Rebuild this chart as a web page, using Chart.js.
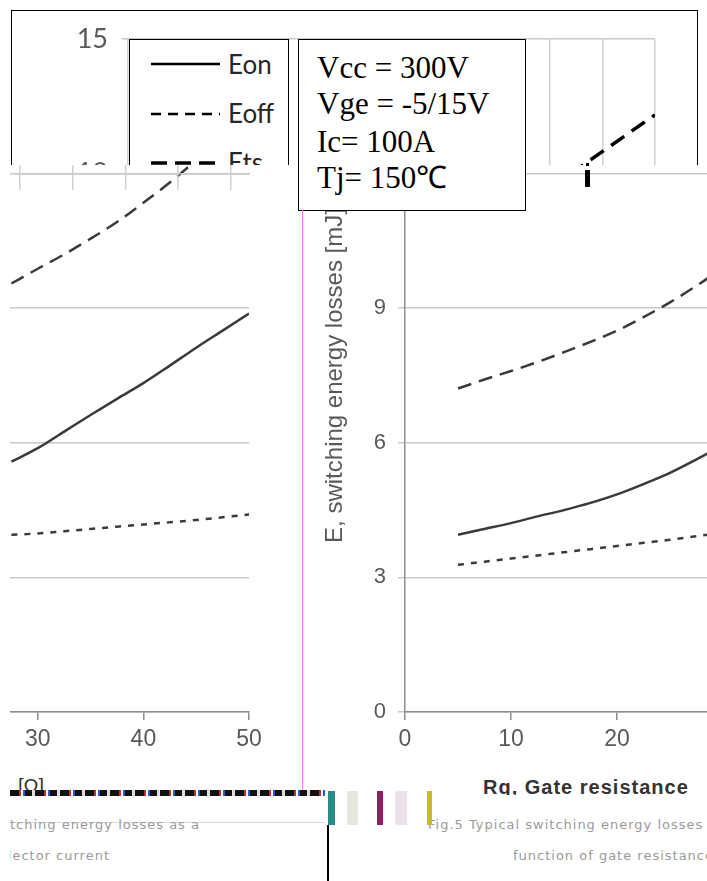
<!DOCTYPE html>
<html>
<head>
<meta charset="utf-8">
<script src="https://cdn.jsdelivr.net/npm/chart.js@4.4.1/dist/chart.umd.min.js"></script>
<style>
  html, body { margin: 0; padding: 0; }
  body { width: 707px; height: 881px; overflow: hidden; position: relative; background: #fff; }
  canvas { position: absolute; }
  .clip { position: absolute; overflow: hidden; }
  .box { position: absolute; background: #fff; border: 1.5px solid #000; box-sizing: border-box; }
  .cond { position: absolute; left: 18px; font-family: "Liberation Serif", "Times New Roman", serif; font-size: 31px; line-height: 30px; color: #000; white-space: nowrap; }
  .junk { position: absolute; font-family: "DejaVu Sans", sans-serif; font-size: 13px; color: #9a9a9a; letter-spacing: 1px; white-space: nowrap; }
</style>
</head>
<body>

<!-- left panel: losses vs collector current -->
<div class="clip" style="left:10px; top:165px; width:290px; height:600px; z-index:1;">
  <canvas id="leftChart" width="600" height="757" style="left:-309.5px; top:-165px;"></canvas>
</div>

<!-- right panel: losses vs gate resistance -->
<canvas id="rightChart" width="700" height="757" style="left:300px; top:0; z-index:1;"></canvas>

<!-- top strip: upper part of another panel -->
<div class="clip" style="left:0; top:0; width:707px; height:165px; background:#fff; z-index:2;">
  <div style="position:absolute; left:11px; top:10px; width:687px; height:300px; border:1.5px solid #000; box-sizing:border-box;"></div>
  <canvas id="topChart" width="707" height="757" style="left:0; top:0;"></canvas>
</div>
<div class="clip" style="left:10px; top:165px; width:240px; height:25px; z-index:2;">
  <canvas id="topChartShift" width="707" height="757" style="left:-118px; top:-165px;"></canvas>
</div>
<div style="position:absolute; left:586px; top:163px; width:3px; height:3px; background:#000; z-index:3;"></div>
<div style="position:absolute; left:585px; top:170px; width:5px; height:17px; background:#000; z-index:3;"></div>

<!-- legend -->
<div class="box" style="left:129px; top:39px; width:160px; height:126px; border-bottom:none; overflow:hidden; z-index:3;">
  <svg width="160" height="126" style="position:absolute; left:-1.5px; top:-1.5px;">
    <line x1="22" y1="25" x2="91" y2="25" stroke="#000" stroke-width="2.5"/>
    <line x1="22" y1="75" x2="91" y2="75" stroke="#000" stroke-width="2.5" stroke-dasharray="10 7"/>
    <line x1="22" y1="124" x2="91" y2="124" stroke="#000" stroke-width="3.5" stroke-dasharray="16 8"/>
    <text x="99" y="35" font-family="Lato, 'Open Sans', sans-serif" font-size="26" fill="#262626">Eon</text>
    <text x="99" y="84" font-family="Lato, 'Open Sans', sans-serif" font-size="26" fill="#262626">Eoff</text>
    <text x="99" y="133" font-family="Lato, 'Open Sans', sans-serif" font-size="26" fill="#262626">Ets</text>
  </svg>
</div>

<!-- test conditions -->
<div class="box" style="left:298px; top:39px; width:228px; height:172px; z-index:3;">
  <div class="cond" style="top:13px;">Vcc = 300V</div>
  <div class="cond" style="top:49px;">Vge = -5/15V</div>
  <div class="cond" style="top:87px;">Ic= 100A</div>
  <div class="cond" style="top:123px;">Tj= 150℃</div>
</div>

<!-- stray marks below the panels -->
<div style="position:absolute; left:302px; top:210px; width:1px; height:580px; background:#ff77ff; z-index:3;"></div>
<div class="clip" style="left:18px; top:776px; width:40px; height:14px; z-index:3;">
  <div style="font-family:'Liberation Sans',Arial,sans-serif; font-size:20px; color:#333; line-height:20px;">[Ω]</div>
</div>
<div class="clip" style="left:483px; top:776px; width:230px; height:19px; z-index:3;">
  <div style="font-family:'Liberation Sans',Arial,sans-serif; font-weight:bold; font-size:20px; color:#333; line-height:22px; letter-spacing:1px; white-space:nowrap;">Rg, Gate resistance</div>
</div>
<div style="position:absolute; left:10px; top:790px; width:315px; height:6px; z-index:3;
  background:repeating-linear-gradient(90deg,#111 0 9px,#b33 9px 11px,#fff 11px 13px,#35c 13px 15px,#111 15px 22px,#ddd 22px 25px);"></div>
<div style="position:absolute; left:10px; top:822px; width:315px; height:1px; background:#d8d8d8; z-index:3;"></div>
<div class="clip" style="left:10px; top:817px; width:190px; height:18px; z-index:3;">
  <div class="junk" style="right:0; top:0;">switching energy losses as a</div>
</div>
<div class="clip" style="left:10px; top:848px; width:100px; height:18px; z-index:3;">
  <div class="junk" style="right:0; top:0;">collector current</div>
</div>
<div class="junk" style="left:428px; top:817px; z-index:3;">Fig.5 Typical switching energy losses as a</div>
<div class="junk" style="left:513px; top:848px; z-index:3;">function of gate resistance</div>
<div style="position:absolute; left:327px; top:825px; width:2px; height:56px; background:#000; z-index:3;"></div>
<div style="position:absolute; left:328px; top:791px; width:7px; height:34px; background:#2a8a8a; z-index:3;"></div>
<div style="position:absolute; left:347px; top:791px; width:11px; height:34px; background:#e6e6dc; z-index:3;"></div>
<div style="position:absolute; left:377px; top:791px; width:6px; height:34px; background:#8a2060; z-index:3;"></div>
<div style="position:absolute; left:395px; top:791px; width:12px; height:34px; background:#eee2ea; z-index:3;"></div>
<div style="position:absolute; left:427px; top:791px; width:5px; height:34px; background:#c8b830; z-index:3;"></div>

<script>
// --- Data ---
const yTicks = [0, 3, 6, 9, 12, 15];
const icTicks = [0, 10, 20, 30, 40, 50];
const rgTicks = [0, 10, 20, 30, 40, 50];
const icTopTicks = [0, 10, 20, 30, 40, 50, 60, 70, 80, 90, 100];

// losses vs collector current (left panel)
const icLeft = [27.5, 30, 32.5, 35, 37.5, 40, 42.5, 45, 47.5, 50];
const eonLeft = [5.58, 5.88, 6.25, 6.62, 6.98, 7.33, 7.72, 8.12, 8.5, 8.88];
const eoffLeft = [3.95, 3.98, 4.03, 4.08, 4.13, 4.18, 4.23, 4.28, 4.34, 4.4];
const icLeftEts = [27.5, 30, 32.5, 35, 37.5, 40, 42.5, 45];
const etsLeft = [9.55, 9.88, 10.2, 10.55, 10.92, 11.35, 11.8, 12.3];

// losses vs gate resistance (right panel)
const rg = [5, 7.5, 10, 12.5, 15, 17.5, 20, 22.5, 25, 27.5, 30];
const eonRg = [3.95, 4.08, 4.21, 4.36, 4.5, 4.66, 4.85, 5.08, 5.33, 5.63, 5.95];
const eoffRg = [3.28, 3.35, 3.42, 3.49, 3.56, 3.63, 3.7, 3.77, 3.84, 3.92, 4.0];
const etsRg = [7.21, 7.41, 7.6, 7.8, 8.02, 8.25, 8.5, 8.8, 9.13, 9.5, 9.9];

// upper panel, only the end of Ets shows
const icTop = [80, 90, 100];
const etsTop = [11.67, 12.49, 13.31];

const SANS = '"Liberation Sans", Arial, sans-serif';
Chart.defaults.font.family = SANS;

function series(xs, ys, dash, width, color) {
    return {
        data: xs.map((x, i) => ({ x: x, y: ys[i] })),
        borderColor: color,
        borderWidth: width,
        borderDash: dash,
        pointRadius: 0,
        cubicInterpolationMode: 'monotone',
        fill: false
    };
}

function setTicks(values) {
    return scale => { scale.ticks = values.map(v => ({ value: v })); };
}

const noPlugins = { legend: { display: false }, tooltip: { enabled: false } };

// --- Left panel ---
new Chart(document.getElementById('leftChart'), {
    type: 'line',
    data: {
        datasets: [
            series(icLeft, eonLeft, [], 2.5, '#3a3a3a'),
            series(icLeft, eoffLeft, [6, 7], 2.5, '#3a3a3a'),
            series(icLeftEts, etsLeft, [14, 8], 2.5, '#3a3a3a')
        ]
    },
    options: {
        responsive: false,
        animation: false,
        layout: { padding: { left: 20, right: 52, top: 39, bottom: 0 } },
        plugins: noPlugins,
        scales: {
            x: {
                type: 'linear', min: 0, max: 50,
                afterBuildTicks: setTicks(icTicks),
                afterFit: s => { s.height = 45; },
                grid: { drawOnChartArea: false, color: '#8c8c8c', tickLength: 8, lineWidth: 1.5 },
                border: { color: '#8c8c8c', width: 1.5 },
                ticks: { color: '#595959', font: { size: 23 }, padding: 6 }
            },
            y: {
                min: 0, max: 15,
                afterBuildTicks: setTicks(yTicks),
                afterFit: s => { s.width = 0; },
                grid: { color: '#c8c8c8', lineWidth: 1.5, drawTicks: false },
                border: { display: false },
                ticks: { display: false }
            }
        }
    }
});

// --- Right panel ---
new Chart(document.getElementById('rightChart'), {
    type: 'line',
    data: {
        datasets: [
            series(rg, eonRg, [], 2.5, '#3a3a3a'),
            series(rg, eoffRg, [6, 7], 2.5, '#3a3a3a'),
            series(rg, etsRg, [14, 8], 2.5, '#3a3a3a')
        ]
    },
    options: {
        responsive: false,
        animation: false,
        layout: { padding: { left: 0, right: 65, top: 39, bottom: 0 } },
        plugins: noPlugins,
        scales: {
            x: {
                type: 'linear', min: 0, max: 50,
                afterBuildTicks: setTicks(rgTicks),
                afterFit: s => { s.height = 45; },
                grid: { drawOnChartArea: false, color: '#8c8c8c', tickLength: 8, lineWidth: 1.5 },
                border: { color: '#8c8c8c', width: 1.5 },
                ticks: { color: '#595959', font: { size: 23 }, padding: 6 }
            },
            y: {
                min: 0, max: 15,
                afterBuildTicks: setTicks(yTicks),
                afterFit: s => { s.width = 105; },
                grid: { color: '#c8c8c8', lineWidth: 1.5, tickLength: 7 },
                border: { color: '#8c8c8c', width: 1.5 },
                ticks: { color: '#595959', font: { size: 22 }, padding: 12 },
                title: {
                    display: true,
                    text: 'E, switching energy losses [mJ]',
                    color: '#595959',
                    font: { size: 24 },
                    padding: { top: 21, bottom: 0 }
                }
            }
        }
    }
});

// --- Upper panel (drawn twice: in place and as the shifted strip) ---
function topConfig() {
    return {
        type: 'line',
        data: { datasets: [series(icTop, etsTop, [16, 9], 3.5, '#000')] },
        options: {
            responsive: false,
            animation: false,
            layout: { padding: { left: 0, right: 52, top: 39, bottom: 0 } },
            plugins: noPlugins,
            scales: {
                x: {
                    type: 'linear', min: 0, max: 100,
                    afterBuildTicks: setTicks(icTopTicks),
                    afterFit: s => { s.height = 45; },
                    grid: { color: '#d0d0d0', lineWidth: 1.5, drawTicks: false },
                    border: { display: false },
                    ticks: { display: false }
                },
                y: {
                    min: 0, max: 15,
                    afterBuildTicks: setTicks(yTicks),
                    afterFit: s => { s.width = 128; },
                    grid: { color: '#c8c8c8', lineWidth: 1.5, tickLength: 6 },
                    border: { display: false },
                    ticks: { color: '#595959', font: { family: 'Lato, "Open Sans", sans-serif', size: 27 }, padding: 14 }
                }
            }
        }
    };
}
new Chart(document.getElementById('topChart'), topConfig());
new Chart(document.getElementById('topChartShift'), topConfig());
</script>
</body>
</html>
